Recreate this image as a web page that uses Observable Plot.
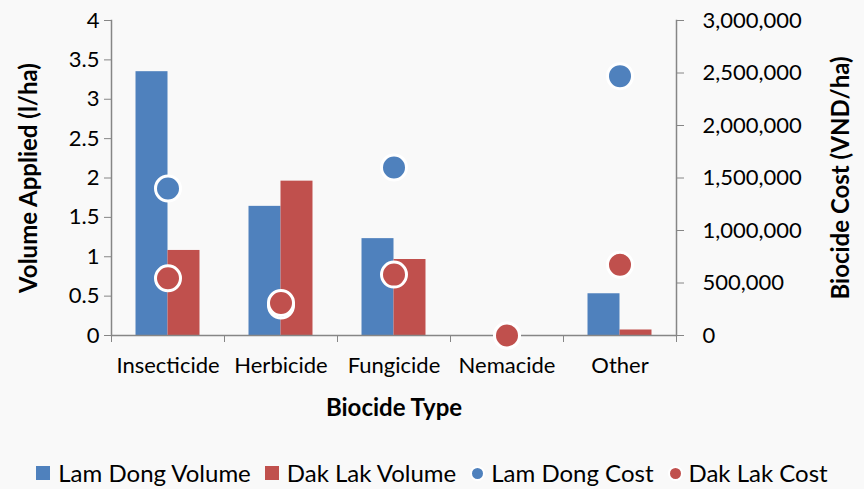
<!DOCTYPE html>
<html><head><meta charset="utf-8">
<script src="https://cdn.jsdelivr.net/npm/d3@7"></script>
<script src="https://cdn.jsdelivr.net/npm/@observablehq/plot@0.6"></script>
<style>
html,body{margin:0;padding:0;background:#f9f9f9;overflow:hidden;}
#chart svg{display:block;}
#chart g[aria-label$="axis label"] text{font-weight:bold;font-size:24px;}
#legend{display:flex;justify-content:center;align-items:center;font-family:Lato,sans-serif;font-size:24px;line-height:28px;margin-top:19px;color:#000;white-space:nowrap;}
.item{display:flex;align-items:center;margin:0 7px;}
.sw{display:inline-block;width:14px;height:14px;margin-right:8px;}
.dt{display:inline-block;width:11px;height:11px;border:2px solid #fff;border-radius:50%;margin-right:6px;}
</style></head>
<body><div id="chart"></div><div id="legend"></div>
<script>
const categories = ["Insecticide","Herbicide","Fungicide","Nemacide","Other"];
const regions = ["Lam Dong","Dak Lak"];
const lamDongVolume = [3.35,1.64,1.23,0,0.53];
const dakLakVolume = [1.08,1.96,0.965,0,0.07];
const lamDongCost = [1400000,285000,1600000,0,2470000];
const dakLakCost = [545000,310000,580000,0,673000];
const volumeTicks = [0,0.5,1,1.5,2,2.5,3,3.5,4];
const costTicks = [0,500000,1000000,1500000,2000000,2500000,3000000];
const colors = ["#4F81BD","#C0504D"];
const legendLabels = ["Lam Dong Volume","Dak Lak Volume","Lam Dong Cost","Dak Lak Cost"];

const volMax = 4, costMax = 3000000;
const ratio = volMax / costMax;

const volumeRows = [];
const costRows = [];
categories.forEach((c,i)=>{
  volumeRows.push({category:c, region:regions[0], volume:lamDongVolume[i]});
  volumeRows.push({category:c, region:regions[1], volume:dakLakVolume[i]});
  costRows.push({category:c, region:regions[0], cost:lamDongCost[i]});
  costRows.push({category:c, region:regions[1], cost:dakLakCost[i]});
});

const W = 864, H = 440, mL = 111, mR = 188;
const half = (W - mL - mR) / categories.length / 2;
const axisColor = "#868686";

const chart = Plot.plot({
  width: W, height: H,
  marginLeft: mL, marginRight: mR, marginTop: 20, marginBottom: 105,
  style: {fontFamily: "Lato, sans-serif", fontSize: "22px", background: "#f9f9f9", color: "#000", overflow: "visible"},
  fx: {domain: categories, padding: 0, round: false},
  x: {domain: regions, paddingInner: 0, paddingOuter: 0.766, round: false, axis: null},
  y: {domain: [0, volMax]},
  color: {domain: regions, range: colors},
  marks: [
    Plot.barY(volumeRows, {fx: "category", x: "region", y: "volume", fill: "region"}),
    Plot.ruleY([0], {stroke: axisColor, strokeWidth: 1.5}),
    Plot.frame({anchor: "left", facetAnchor: "left", stroke: axisColor, strokeWidth: 1.5}),
    Plot.frame({anchor: "right", facetAnchor: "right", stroke: axisColor, strokeWidth: 1.5}),
    Plot.dot(costRows, {fx: "category", y: d => d.cost * ratio, fill: "region", r: 12.5, stroke: "white", strokeWidth: 3}),
    Plot.axisY({anchor: "left", ticks: volumeTicks, tickFormat: d => String(d), tickSize: 7, tickPadding: 5, stroke: axisColor,
      label: "Volume Applied (l/ha)", labelAnchor: "center", labelArrow: "none", labelOffset: 92}),
    Plot.axisY({anchor: "right", ticks: costTicks.map(c => c * ratio), tickFormat: v => d3.format(",")(Math.round(v / ratio)),
      tickSize: 7, tickPadding: 19, stroke: axisColor,
      label: "Biocide Cost (VND/ha)", labelAnchor: "center", labelArrow: "none", labelOffset: 172}),
    Plot.axisFx({anchor: "bottom", tickSize: 0, tickPadding: 22, label: "Biocide Type", labelAnchor: "center", labelArrow: "none", labelOffset: 80}),
    Plot.axisFx({anchor: "bottom", tickSize: 7, tickFormat: () => "", dx: -half, label: null, stroke: axisColor}),
    Plot.axisFx({anchor: "bottom", ticks: [categories[categories.length-1]], tickSize: 7, tickFormat: () => "", dx: half, label: null, stroke: axisColor})
  ]
});
document.getElementById("chart").appendChild(chart);

const legend = document.getElementById("legend");
legendLabels.forEach((lab, i) => {
  const item = document.createElement("span");
  item.className = "item";
  const m = document.createElement("span");
  m.className = i < 2 ? "sw" : "dt";
  m.style.background = colors[i % 2];
  item.appendChild(m);
  item.appendChild(document.createTextNode(lab));
  legend.appendChild(item);
});
</script>
</body></html>
